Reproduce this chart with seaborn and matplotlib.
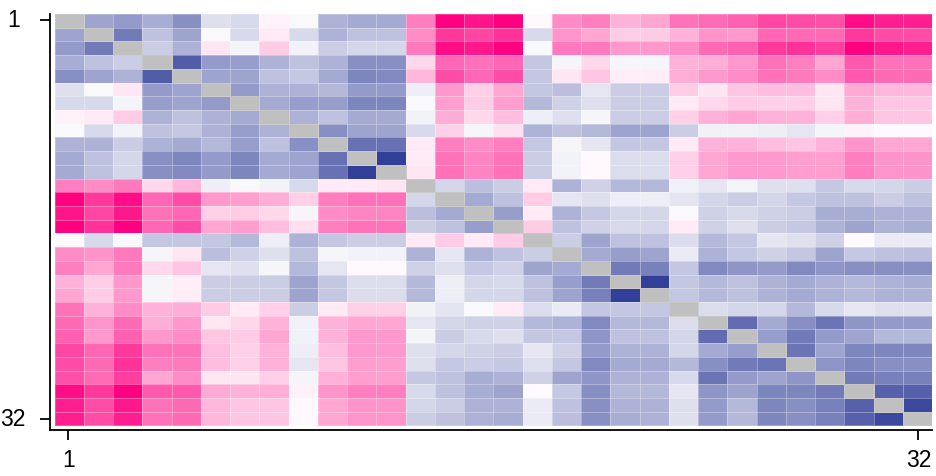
import numpy as np
import pandas as pd
import matplotlib
matplotlib.use("Agg")
import matplotlib.pyplot as plt
from matplotlib.colors import LinearSegmentedColormap, ListedColormap
import seaborn as sns

# upper triangle of the symmetric matrix, row i holds columns i+1 .. 30
r01 = [-0.45, -0.5, -0.4, -0.55, -0.15, -0.18, 0.05, -0.03, -0.38, -0.42, -0.42, 0.5, 1.0, 0.92, 1.0,
       0.03, 0.45, 0.5, 0.3, 0.35, 0.55, 0.58, 0.62, 0.72, 0.7, 0.68, 0.95, 0.88, 0.88]
r02 = [-0.65, -0.3, -0.45, -0.03, -0.18, 0.08, -0.18, -0.38, -0.3, -0.3, 0.45, 0.78, 0.72, 0.8,
       -0.18, 0.42, 0.35, 0.2, 0.2, 0.3, 0.42, 0.4, 0.6, 0.58, 0.58, 0.78, 0.7, 0.7]
r03 = [-0.25, -0.38, 0.1, -0.05, 0.2, -0.06, -0.25, -0.2, -0.2, 0.52, 0.95, 0.9, 1.0,
       -0.03, 0.52, 0.52, 0.4, 0.4, 0.45, 0.58, 0.62, 0.78, 0.8, 0.75, 1.0, 0.9, 0.88]
r04 = [-0.8, -0.5, -0.48, -0.38, -0.3, -0.38, -0.55, -0.55, 0.15, 0.6, 0.55, 0.6,
       -0.28, -0.04, 0.15, -0.04, -0.04, 0.3, 0.32, 0.4, 0.55, 0.5, 0.35, 0.65, 0.55, 0.55]
r05 = [-0.45, -0.45, -0.3, -0.27, -0.42, -0.6, -0.58, 0.28, 0.7, 0.6, 0.7,
       -0.28, 0.1, 0.22, 0.07, 0.07, 0.32, 0.4, 0.45, 0.55, 0.52, 0.45, 0.65, 0.58, 0.58]
r06 = [-0.5, -0.38, -0.38, -0.35, -0.5, -0.5, -0.08, 0.4, 0.18, 0.35,
       -0.28, -0.32, -0.12, -0.25, -0.25, 0.2, 0.1, 0.22, 0.25, 0.25, 0.1, 0.33, 0.28, 0.28]
r07 = [-0.42, -0.48, -0.48, -0.6, -0.6, -0.03, 0.38, 0.2, 0.38,
       -0.35, -0.22, -0.15, -0.25, -0.25, 0.08, 0.15, 0.2, 0.18, 0.18, 0.1, 0.3, 0.22, 0.22]
r08 = [-0.38, -0.3, -0.42, -0.42, -0.06, 0.32, 0.15, 0.25,
       -0.08, -0.15, -0.04, -0.25, -0.25, 0.18, 0.3, 0.35, 0.3, 0.3, 0.18, 0.32, 0.22, 0.22]
r09 = [-0.55, -0.45, -0.45, -0.18, 0.18, -0.04, 0.12,
       -0.38, -0.3, -0.35, -0.45, -0.45, -0.25, -0.07, -0.07, -0.08, -0.12, -0.05, 0.05, 0.03, 0.03]
r10 = [-0.7, -0.7, 0.08, 0.5, 0.45, 0.5,
       -0.28, -0.04, -0.12, -0.28, -0.28, 0.08, 0.3, 0.3, 0.25, 0.22, 0.3, 0.42, 0.35, 0.35]
r11 = [-0.95, 0.08, 0.55, 0.48, 0.55,
       -0.25, -0.06, 0.03, -0.17, -0.17, 0.18, 0.35, 0.4, 0.4, 0.38, 0.38, 0.5, 0.42, 0.42]
r12 = [0.1, 0.55, 0.48, 0.55,
       -0.25, -0.06, 0.03, -0.17, -0.17, 0.18, 0.35, 0.4, 0.4, 0.38, 0.38, 0.5, 0.42, 0.42]
r13 = [-0.2, -0.32, -0.25, 0.08, -0.38, -0.22, -0.35, -0.35, -0.07, -0.12, -0.05, -0.15, -0.15,
       -0.27, -0.18, -0.2, -0.25]
r14 = [-0.42, -0.3, 0.2, -0.12, -0.15, -0.08, -0.08, -0.13, -0.2, -0.25, -0.2, -0.27, -0.3, -0.3,
       -0.25, -0.3]
r15 = [-0.48, 0.08, -0.38, -0.27, -0.2, -0.2, -0.03, -0.22, -0.18, -0.22, -0.25, -0.4, -0.4, -0.38, -0.38]
r16 = [0.2, -0.3, -0.22, -0.18, -0.2, 0.08, -0.22, -0.15, -0.25, -0.27, -0.38, -0.45, -0.38, -0.4]
r17 = [-0.25, -0.45, -0.3, -0.3, -0.17, -0.35, -0.28, -0.12, -0.15, -0.22, 0.02, -0.1, -0.1]
r18 = [-0.42, -0.48, -0.45, -0.1, -0.38, -0.28, -0.22, -0.28, -0.45, -0.27, -0.3, -0.32]
r19 = [-0.65, -0.62, -0.28, -0.58, -0.52, -0.5, -0.58, -0.52, -0.55, -0.55, -0.55]
r20 = [-0.95, -0.28, -0.35, -0.3, -0.38, -0.42, -0.38, -0.35, -0.38, -0.4]
r21 = [-0.28, -0.35, -0.3, -0.38, -0.42, -0.38, -0.35, -0.38, -0.38]
r22 = [-0.17, -0.2, -0.2, -0.35, -0.18, -0.12, -0.15, -0.15]
r23 = [-0.72, -0.42, -0.55, -0.68, -0.52, -0.5, -0.5]
r24 = [-0.48, -0.65, -0.5, -0.45, -0.35, -0.35]
r25 = [-0.68, -0.45, -0.6, -0.6, -0.6]
r26 = [-0.52, -0.6, -0.55, -0.55]
r27 = [-0.65, -0.62, -0.62]
r28 = [-0.78, -0.78]
r29 = [-0.9]

tick_values = [1, 32]
tick_labels = ["1", "32"]

rows = [r01, r02, r03, r04, r05, r06, r07, r08, r09, r10, r11, r12, r13, r14, r15,
        r16, r17, r18, r19, r20, r21, r22, r23, r24, r25, r26, r27, r28, r29]
n = len(rows) + 1
mat = np.full((n, n), np.nan)
for i, vals in enumerate(rows):
    mat[i, i + 1:] = vals
    mat[i + 1:, i] = vals
df = pd.DataFrame(mat)
diag = np.eye(n, dtype=bool)

plt.rcParams['font.family'] = ['Liberation Sans', 'DejaVu Sans']

cmap = LinearSegmentedColormap.from_list("bwp", ["#283593", "#ffffff", "#ff0080"])

fig = plt.figure(figsize=(9.37, 4.76), dpi=100)
ax = fig.add_axes([50 / 937, 46 / 476, 882 / 937, 416 / 476])

sns.heatmap(df, mask=diag, cmap=cmap, vmin=-1, vmax=1, cbar=False, ax=ax,
            linewidths=0.4, linecolor=(1, 1, 1, 0.12))
sns.heatmap(pd.DataFrame(np.ones((n, n))), mask=~diag, cmap=ListedColormap(["#c0c0c0"]),
            cbar=False, ax=ax, linewidths=0.4, linecolor=(1, 1, 1, 0.12))

# small gap between the cells and the axis lines
ax.set_xlim(-0.154, n)
ax.set_ylim(n + 0.33, 0)

# axis runs 1..32 over the full width of the matrix
pos = [(v - 0.5) * n / 32 for v in tick_values]
ax.set_xticks(pos)
ax.set_xticklabels(tick_labels, rotation=0, fontsize=16.5)
ax.set_yticks(pos)
ax.set_yticklabels(tick_labels, rotation=0, fontsize=16.5, ha="center")

for side in ["top", "right"]:
    ax.spines[side].set_visible(False)
for side in ["left", "bottom"]:
    ax.spines[side].set_visible(True)
    ax.spines[side].set_linewidth(1.3)
    ax.spines[side].set_color("black")

ax.tick_params(axis="x", length=7.5, width=1.3, pad=6, colors="black")
ax.tick_params(axis="y", length=7.5, width=1.3, pad=19, colors="black")
ax.set_xlabel("")
ax.set_ylabel("")

fig.savefig("out.png", dpi=100, facecolor="white")
